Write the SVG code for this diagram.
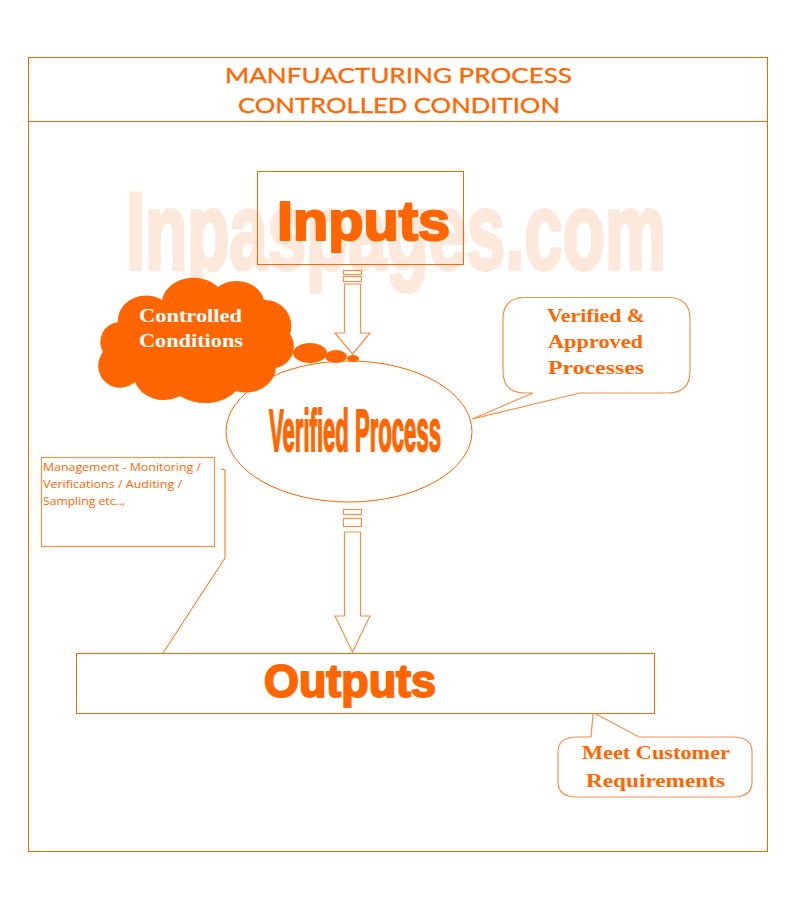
<svg xmlns="http://www.w3.org/2000/svg" width="805" height="912" viewBox="0 0 805 912">
<style>
.ln{fill:none;stroke:#ff6600;stroke-width:1}
.lt{fill:none;stroke:#f7904a;stroke-width:1.2}
.box{fill:none;stroke:#ff6600;stroke-width:1}
.title{font-family:Lato,"Open Sans",sans-serif;font-size:21px;fill:#ff6600;stroke:#ff6600;stroke-width:0.3}
.big{font-family:"Liberation Sans",Arial,sans-serif;font-weight:bold;fill:#ff6600;stroke:#ff6600;stroke-linejoin:round}
.ser{font-family:"Liberation Serif","DejaVu Serif",serif;font-weight:bold;font-size:19px;fill:#ff6600}
.small{font-family:"Open Sans","Liberation Sans",sans-serif;font-size:11px;fill:#ff6600}
</style>
<rect x="0" y="0" width="805" height="912" fill="#ffffff"/>
<g id="frame">
<rect x="28.5" y="57.5" width="739" height="794" class="ln"/>
<line x1="28.5" y1="121.5" x2="767.5" y2="121.5" class="ln"/>
<text class="title" x="225" y="83" textLength="347" lengthAdjust="spacingAndGlyphs">MANFUACTURING PROCESS</text>
<text class="title" x="238" y="113" textLength="322" lengthAdjust="spacingAndGlyphs">CONTROLLED CONDITION</text>
</g>
<g id="watermark">
<text x="126" y="269" font-family="Liberation Sans,Arial,sans-serif" font-weight="bold" font-size="110" fill="#fde9dc" stroke="#fde9dc" stroke-width="4" stroke-linejoin="round" textLength="540" lengthAdjust="spacingAndGlyphs">Inpaspages.com</text>
</g>
<g id="connectors">
<g id="arrow-inputs">
<rect x="343.5" y="270.5" width="18" height="4" class="lt" fill="#fff"/>
<rect x="343.5" y="276.5" width="18" height="5" class="lt" fill="#fff"/>
<path d="M344.5 284 L360.5 284 L360.5 333 L370 333 L352.5 354 L335 333 L344.5 333 Z" class="lt" fill="#fff"/>
</g>
<g id="arrow-outputs">
<rect x="343.5" y="509.5" width="18" height="5" class="lt" fill="#fff"/>
<rect x="343.5" y="518.5" width="18" height="8" class="lt" fill="#fff"/>
<path d="M344.5 532 L360.5 532 L360.5 616 L370 616 L352.5 652 L335 616 L344.5 616 Z" class="lt" fill="#fff"/>
</g>
<polyline points="221,469 225,470 225,558 163,653" class="ln"/>
</g>
<g id="inputs">
<rect x="257.5" y="171.5" width="206" height="93" class="box"/>
<text class="big" x="277" y="240" font-size="55" stroke-width="2.2" textLength="173" lengthAdjust="spacingAndGlyphs">Inputs</text>
</g>
<g id="controlled-conditions">
<path d="M118 322 A28 25 0 0 1 162 300 A32 26 0 0 1 218 287 A28 24 0 0 1 264 300 A26 26 0 0 1 290 334 A22 22 0 0 1 276 368 A30 26 0 0 1 236 391 A36 25 0 0 1 180 396 A30 25 0 0 1 135 382 A22 22 0 0 1 103 352 A20 20 0 0 1 118 322 Z" fill="#ff6600"/>
<ellipse cx="310" cy="353" rx="17" ry="10" fill="#ff6600"/>
<ellipse cx="336" cy="356.5" rx="11" ry="6.5" fill="#ff6600"/>
<ellipse cx="353" cy="358.5" rx="6" ry="3.5" fill="#ff6600"/>
<text class="ser" x="139" y="322" style="fill:#fff" textLength="103" lengthAdjust="spacingAndGlyphs">Controlled</text>
<text class="ser" x="139" y="347" style="fill:#fff" textLength="104" lengthAdjust="spacingAndGlyphs">Conditions</text>
</g>
<g id="verified-process">
<ellipse cx="349" cy="431.5" rx="123" ry="70.5" class="box"/>
<text class="big" x="269" y="451" font-size="60" stroke-width="2" textLength="172" lengthAdjust="spacingAndGlyphs">Verified Process</text>
</g>
<g id="verified-callout">
<path d="M525 297.5 L668 297.5 Q690 297.5 690 319 L690 371 Q690 393 668 393 L580 393 L472 419 L533 393 L525 393 Q503 393 503 371 L503 319 Q503 297.5 525 297.5 Z" class="lt" fill="#fff"/>
<text class="ser" x="547" y="322" textLength="98" lengthAdjust="spacingAndGlyphs">Verified &amp;</text>
<text class="ser" x="548" y="348" textLength="95" lengthAdjust="spacingAndGlyphs">Approved</text>
<text class="ser" x="548" y="374" textLength="96" lengthAdjust="spacingAndGlyphs">Processes</text>
</g>
<g id="management">
<rect x="41.5" y="457.5" width="173" height="89" class="lt" fill="#fff"/>
<text class="small" x="43" y="471" textLength="158" lengthAdjust="spacingAndGlyphs">Management - Monitoring /</text>
<text class="small" x="43" y="488" textLength="139" lengthAdjust="spacingAndGlyphs">Verifications / Auditing /</text>
<text class="small" x="43" y="505" textLength="82" lengthAdjust="spacingAndGlyphs">Sampling etc..,</text>
</g>
<g id="outputs">
<rect x="76.5" y="653.5" width="578" height="60" class="box"/>
<text class="big" x="264" y="697" font-size="46" stroke-width="2" textLength="172" lengthAdjust="spacingAndGlyphs">Outputs</text>
</g>
<g id="customer-callout">
<path d="M591 737 L593 714 L596 714 L639 737 L733 737 Q752 737 752 752 L752 782 Q752 797 733 797 L577 797 Q558 797 558 782 L558 752 Q558 737 577 737 Z" class="lt" fill="#fff"/>
<text class="ser" x="582" y="759" textLength="148" lengthAdjust="spacingAndGlyphs">Meet Customer</text>
<text class="ser" x="586" y="787" textLength="139" lengthAdjust="spacingAndGlyphs">Requirements</text>
</g>
</svg>
